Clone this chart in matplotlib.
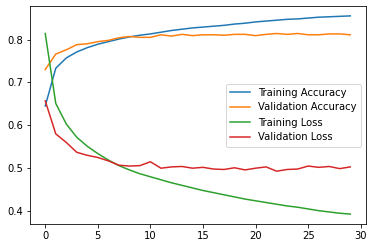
import matplotlib
matplotlib.use("Agg")
import matplotlib.pyplot as plt

# 学習履歴
epochs = list(range(30))
train_acc = [0.645, 0.733, 0.757, 0.771, 0.781, 0.789, 0.795, 0.801, 0.806, 0.810,
             0.813, 0.817, 0.821, 0.824, 0.827, 0.829, 0.831, 0.833, 0.836, 0.838,
             0.841, 0.843, 0.845, 0.847, 0.848, 0.850, 0.852, 0.853, 0.854, 0.855]
val_acc = [0.730, 0.766, 0.776, 0.788, 0.790, 0.795, 0.798, 0.804, 0.807, 0.805,
           0.805, 0.811, 0.808, 0.812, 0.809, 0.811, 0.811, 0.810, 0.812, 0.812,
           0.809, 0.812, 0.814, 0.812, 0.814, 0.811, 0.811, 0.813, 0.813, 0.811]
train_loss = [0.814, 0.651, 0.603, 0.572, 0.551, 0.534, 0.519, 0.506, 0.496, 0.487,
              0.480, 0.473, 0.466, 0.460, 0.454, 0.448, 0.443, 0.438, 0.433, 0.428,
              0.424, 0.420, 0.416, 0.412, 0.409, 0.405, 0.401, 0.398, 0.395, 0.393]
val_loss = [0.657, 0.580, 0.560, 0.537, 0.530, 0.525, 0.517, 0.507, 0.505, 0.506,
            0.515, 0.500, 0.503, 0.504, 0.500, 0.502, 0.498, 0.497, 0.501, 0.496,
            0.500, 0.503, 0.493, 0.497, 0.498, 0.505, 0.502, 0.504, 0.499, 0.503]

fig, ax = plt.subplots(figsize=(373 / 72, 248 / 72), dpi=72)
fig.subplots_adjust(left=30 / 373, right=365.5 / 373, top=1 - 6 / 248, bottom=1 - 224 / 248)

ax.plot(epochs, train_acc, label="Training Accuracy")
ax.plot(epochs, val_acc, label="Validation Accuracy")
ax.plot(epochs, train_loss, label="Training Loss")
ax.plot(epochs, val_loss, label="Validation Loss")
ax.legend(loc="center right")

plt.savefig("out.png", dpi=72)
